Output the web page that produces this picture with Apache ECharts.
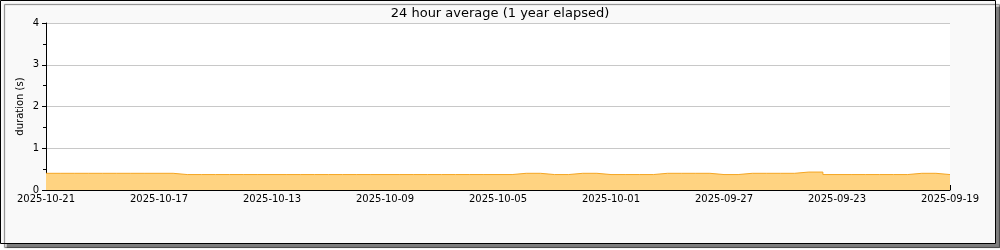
<!DOCTYPE html>
<html>
<head>
<meta charset="utf-8">
<script src="https://cdn.jsdelivr.net/npm/echarts@6/dist/echarts.min.js"></script>
<style>
html,body{margin:0;padding:0;background:#fff;}
#c{width:1000px;height:250px;}
</style>
</head>
<body>
<div id="c"></div>
<script>
const titleText = '24 hour average (1 year elapsed)';
const yAxisName = 'duration (s)';
const categories = [
  '2025-10-21','2025-10-20','2025-10-19','2025-10-18','2025-10-17','2025-10-16','2025-10-15','2025-10-14',
  '2025-10-13','2025-10-12','2025-10-11','2025-10-10','2025-10-09','2025-10-08','2025-10-07','2025-10-06',
  '2025-10-05','2025-10-04','2025-10-03','2025-10-02','2025-10-01','2025-09-30','2025-09-29','2025-09-28',
  '2025-09-27','2025-09-26','2025-09-25','2025-09-24','2025-09-23','2025-09-22','2025-09-21','2025-09-20',
  '2025-09-19'
];
const durations = [
  0.40,0.40,0.40,0.40,0.40,0.37,0.37,0.37,
  0.37,0.37,0.37,0.37,0.37,0.37,0.37,0.37,
  0.37,0.40,0.37,0.40,0.37,0.37,0.40,0.40,
  0.37,0.40,0.40,0.43,0.37,0.37,0.37,0.40,
  0.37
];
const yTicks = [0,1,2,3,4];

const chart = echarts.init(document.getElementById('c'), null, {renderer:'canvas'});
const font = 'DejaVu Sans';
chart.setOption({
  animation:false,
  backgroundColor:'transparent',
  graphic:[{
    type:'rect', z:-10, silent:true,
    shape:{x:0.5,y:0.5,width:995,height:243},
    style:{fill:'#f9f9f9',stroke:'#000',lineWidth:1,
      shadowColor:'rgba(0,0,0,0.5)',shadowOffsetX:4,shadowOffsetY:4,shadowBlur:1}
  },{
    type:'rect', z:-9, silent:true,
    shape:{x:46,y:23,width:904,height:167},
    style:{fill:'#ffffff'}
  }],
  title:{text:titleText,left:'center',top:2,
    textStyle:{fontFamily:font,fontSize:13,fontWeight:'normal',color:'#000'}},
  grid:{left:46,right:50,top:23,bottom:60,containLabel:false},
  xAxis:{
    type:'category',data:categories,boundaryGap:false,
    axisLine:{show:true,lineStyle:{color:'#000',width:1}},
    axisTick:{show:true,inside:true,length:5,interval:1,lineStyle:{color:'#000'}},
    axisLabel:{interval:3,margin:4,fontFamily:font,fontSize:10,color:'#000',showMinLabel:true,showMaxLabel:true},
    splitLine:{show:false}
  },
  yAxis:{
    type:'value',min:yTicks[0],max:yTicks[yTicks.length-1],interval:1,
    name:yAxisName,nameLocation:'middle',nameGap:21,nameRotate:90,nameMoveOverlap:false,
    nameTextStyle:{fontFamily:font,fontSize:10,color:'#000'},
    axisLine:{show:true,lineStyle:{color:'#000',width:1}},
    axisTick:{show:true,length:4,lineStyle:{color:'#000'}},
    minorTick:{show:true,splitNumber:2,length:3,lineStyle:{color:'#000'}},
    axisLabel:{margin:7,fontFamily:font,fontSize:10,color:'#000'},
    splitLine:{show:true,lineStyle:{color:'#c8c8c8',width:1}}
  },
  series:[{
    type:'line',data:durations,step:'middle',symbol:'none',
    lineStyle:{color:'#f5a623',width:1},
    areaStyle:{color:'#ffd381',opacity:1},
    z:3
  }]
});
</script>
</body>
</html>
